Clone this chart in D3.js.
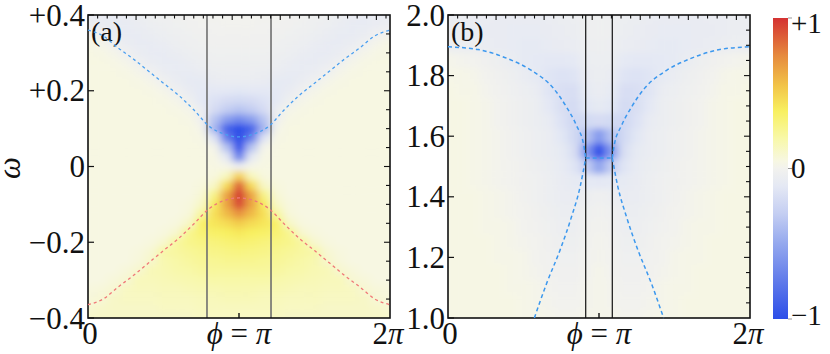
<!DOCTYPE html>
<html><head><meta charset="utf-8">
<script src="https://cdn.jsdelivr.net/npm/d3@7"></script>
<style>
body{margin:0;background:#fff}
svg{display:block}
text{font-family:"Liberation Serif","Times New Roman",serif;fill:#111}
</style>
</head><body>
<svg id="chart" width="830" height="354"></svg>
<script>
// ---------------- data ----------------
// heat-map columns: phi / pi
const phiCols = [0,0.083,0.167,0.25,0.333,0.417,0.5,0.583,0.667,0.75,0.833,0.917,1,1.083,1.167,1.25,1.333,1.417,1.5,1.583,1.667,1.75,1.833,1.917,2];
// panel (a) rows: omega
const aOmegaRows = [0.4,0.375,0.35,0.325,0.3,0.275,0.25,0.225,0.2,0.175,0.15,0.125,0.1,0.075,0.05,0.025,0,-0.025,-0.05,-0.075,-0.1,-0.125,-0.15,-0.175,-0.2,-0.225,-0.25,-0.275,-0.3,-0.325,-0.35,-0.375,-0.4];
// panel (a) values (x100), one row per omega
const aHeat = [
[-7,-8,-9,-8,-6,-4,-3,-2,-1,0,0,0,0,0,0,0,-1,-2,-3,-4,-6,-8,-9,-8,-7],
[-5,-7,-9,-9,-7,-5,-4,-3,-2,-1,-1,0,0,0,-1,-1,-2,-3,-4,-5,-7,-9,-9,-7,-5],
[0,-3,-7,-9,-9,-7,-5,-4,-3,-2,-1,-1,-1,-1,-1,-2,-3,-4,-5,-7,-9,-9,-7,-3,0],
[4,2,-3,-7,-9,-9,-7,-5,-4,-3,-2,-2,-2,-2,-2,-3,-4,-5,-7,-9,-9,-7,-3,2,4],
[5,4,2,-3,-7,-9,-9,-7,-5,-4,-3,-3,-3,-3,-3,-4,-5,-7,-9,-9,-7,-3,2,4,5],
[5,5,4,2,-3,-7,-9,-9,-7,-5,-4,-4,-4,-4,-4,-5,-7,-9,-9,-7,-3,2,4,5,5],
[5,5,5,4,2,-3,-7,-9,-9,-7,-6,-5,-5,-5,-6,-7,-9,-9,-7,-3,2,4,5,5,5],
[5,5,5,5,4,2,-3,-7,-10,-10,-8,-7,-7,-7,-8,-10,-10,-7,-3,2,4,5,5,5,5],
[5,5,5,5,5,4,2,-3,-8,-11,-12,-12,-13,-12,-12,-11,-8,-3,2,4,5,5,5,5,5],
[5,5,5,5,5,5,4,2,-4,-11,-16,-20,-22,-20,-16,-11,-4,2,4,5,5,5,5,5,5],
[5,5,5,5,5,5,5,4,2,-6,-20,-30,-35,-30,-20,-6,2,4,5,5,5,5,5,5,5],
[5,5,5,5,5,5,5,5,4,-2,-35,-55,-65,-55,-35,-2,4,5,5,5,5,5,5,5,5],
[5,5,5,5,5,5,5,5,5,2,-42,-88,-100,-88,-42,2,5,5,5,5,5,5,5,5,5],
[5,5,5,5,5,5,5,5,5,4,-15,-72,-100,-72,-15,4,5,5,5,5,5,5,5,5,5],
[5,5,5,5,5,5,5,5,5,5,2,-35,-100,-35,2,5,5,5,5,5,5,5,5,5,5],
[5,5,5,5,5,5,5,5,5,5,4,-10,-72,-10,4,5,5,5,5,5,5,5,5,5,5],
[5,5,5,5,5,5,5,5,5,5,5,3,-5,3,5,5,5,5,5,5,5,5,5,5,5],
[5,5,5,5,5,5,5,5,5,5,6,14,50,14,6,5,5,5,5,5,5,5,5,5,5],
[5,5,5,5,5,5,5,5,5,6,12,45,88,45,12,6,5,5,5,5,5,5,5,5,5],
[5,5,5,5,5,5,5,5,5,8,28,66,100,66,28,8,5,5,5,5,5,5,5,5,5],
[5,5,5,5,5,5,5,5,6,12,40,66,95,66,40,12,6,5,5,5,5,5,5,5,5],
[5,5,5,5,5,5,5,5,7,22,44,58,72,58,44,22,7,5,5,5,5,5,5,5,5],
[5,5,5,5,5,5,5,6,12,36,42,46,52,46,42,36,12,6,5,5,5,5,5,5,5],
[5,5,5,5,5,5,6,10,26,33,36,38,41,38,36,33,26,10,6,5,5,5,5,5,5],
[5,5,5,5,5,6,10,22,27,29,31,33,34,33,31,29,27,22,10,6,5,5,5,5,5],
[5,5,5,5,6,9,20,22,24,26,28,29,30,29,28,26,24,22,20,9,6,5,5,5,5],
[5,5,5,5,7,11,18,20,22,24,25,26,26,26,25,24,22,20,18,11,7,5,5,5,5],
[5,5,5,7,10,16,17,19,20,22,23,23,23,23,23,22,20,19,17,16,10,7,5,5,5],
[5,5,7,9,15,15,16,17,18,19,20,20,20,20,20,19,18,17,16,15,15,9,7,5,5],
[6,7,9,13,14,14,15,15,16,17,17,18,18,18,17,17,16,15,15,14,14,13,9,7,6],
[7,8,12,13,13,13,14,14,14,15,15,16,16,16,15,15,14,14,14,13,13,13,12,8,7],
[9,11,12,12,12,12,13,13,13,14,14,14,14,14,14,14,13,13,13,12,12,12,12,11,9],
[11,12,12,12,12,12,12,12,12,13,13,13,13,13,13,13,12,12,12,12,12,12,12,12,11]
];
// panel (b) rows: omega
const bOmegaRows = [2.0,1.95,1.9,1.85,1.8,1.75,1.7,1.65,1.6,1.55,1.5,1.45,1.4,1.35,1.3,1.25,1.2,1.15,1.1,1.05,1.0];
const bHeat = [
[-6,-6,-7,-7,-8,-8,-8,-8,-7,-6,-5,-4,-3,-4,-5,-6,-7,-8,-8,-8,-8,-7,-7,-6,-6],
[-6,-6,-7,-8,-8,-9,-9,-9,-8,-7,-6,-4,-3,-4,-6,-7,-8,-9,-9,-9,-8,-8,-7,-6,-6],
[-5,-5,-6,-7,-8,-9,-10,-10,-9,-8,-7,-5,-4,-5,-7,-8,-9,-10,-10,-9,-8,-7,-6,-5,-5],
[2,1,0,-2,-4,-7,-10,-11,-12,-12,-11,-6,-5,-6,-11,-12,-12,-11,-10,-7,-4,-2,0,1,2],
[3,3,2,0,-2,-4,-7,-10,-14,-16,-15,-8,-6,-8,-15,-16,-14,-10,-7,-4,-2,0,2,3,3],
[4,3,3,1,-1,-3,-5,-7,-14,-18,-19,-10,-7,-10,-19,-18,-14,-7,-5,-3,-1,1,3,3,4],
[4,4,3,2,0,-2,-4,-6,-12,-18,-21,-13,-10,-13,-21,-18,-12,-6,-4,-2,0,2,3,4,4],
[4,4,3,2,0,-2,-4,-6,-9,-16,-23,-22,-20,-22,-23,-16,-9,-6,-4,-2,0,2,3,4,4],
[4,4,3,2,1,-1,-3,-5,-7,-13,-22,-36,-58,-36,-22,-13,-7,-5,-3,-1,1,2,3,4,4],
[4,4,3,2,1,-1,-3,-5,-7,-10,-18,-58,-100,-58,-18,-10,-7,-5,-3,-1,1,2,3,4,4],
[4,4,3,2,1,0,-2,-4,-6,-9,-14,-30,-52,-30,-14,-9,-6,-4,-2,0,1,2,3,4,4],
[4,4,3,2,1,0,-2,-3,-5,-8,-10,-11,-12,-11,-10,-8,-5,-3,-2,0,1,2,3,4,4],
[4,4,4,3,2,1,-1,-3,-5,-7,-8,-5,-3,-5,-8,-7,-5,-3,-1,1,2,3,4,4,4],
[4,4,4,3,2,1,0,-2,-4,-6,-6,-3,-1,-3,-6,-6,-4,-2,0,1,2,3,4,4,4],
[4,4,4,3,3,2,0,-1,-3,-5,-5,-2,0,-2,-5,-5,-3,-1,0,2,3,3,4,4,4],
[4,4,4,4,3,2,1,0,-2,-4,-4,-1,1,-1,-4,-4,-2,0,1,2,3,4,4,4,4],
[4,4,4,4,3,3,2,0,-1,-3,-3,0,1,0,-3,-3,-1,0,2,3,3,4,4,4,4],
[4,4,4,4,4,3,2,1,-1,-2,-2,0,2,0,-2,-2,-1,1,2,3,4,4,4,4,4],
[4,4,4,4,4,3,3,2,0,-1,-1,1,2,1,-1,-1,0,2,3,3,4,4,4,4,4],
[4,4,4,4,4,4,3,2,1,0,0,1,2,1,0,0,1,2,3,4,4,4,4,4,4],
[4,4,4,4,4,4,3,3,2,1,1,2,2,2,1,1,2,3,3,4,4,4,4,4,4]
];
// dashed dispersion curves (phi / pi, omega)
const aCurvePhi = [0,0.1,0.2,0.3,0.4,0.5,0.6,0.7,0.8,0.9,1,1.1,1.2,1.3,1.4,1.5,1.6,1.7,1.8,1.9,2];
const aBlueOmega = [0.360,0.345,0.313,0.284,0.252,0.220,0.188,0.150,0.107,0.086,0.078,0.086,0.107,0.150,0.188,0.220,0.252,0.284,0.313,0.345,0.360];
const aRedOmega = [-0.365,-0.350,-0.318,-0.288,-0.255,-0.222,-0.190,-0.152,-0.112,-0.090,-0.083,-0.090,-0.112,-0.152,-0.190,-0.222,-0.255,-0.288,-0.318,-0.350,-0.365];
const bUpperLeftPhi = [0,0.2,0.4,0.55,0.7,0.78,0.85,0.9,0.912];
const bUpperLeftOmega = [1.895,1.886,1.855,1.818,1.757,1.700,1.636,1.568,1.528];
const bUpperRightPhi = [1.088,1.1,1.15,1.22,1.3,1.45,1.6,1.8,2];
const bUpperRightOmega = [1.528,1.568,1.636,1.700,1.757,1.818,1.855,1.886,1.895];
const bLowerLeftPhi = [0.572,0.653,0.742,0.818,0.875,0.912];
const bLowerLeftOmega = [1.0,1.114,1.224,1.334,1.433,1.528];
const bLowerRightPhi = [1.088,1.125,1.182,1.258,1.347,1.428];
const bLowerRightOmega = [1.528,1.433,1.334,1.224,1.114,1.0];
const bFlatPhi = [0.912,1.088];
const bFlatOmega = [1.528,1.528];
// vertical reference lines (phi / pi)
const aCutLines = [0.788,1.212];
const bCutLines = [0.912,1.088];
// ticks & labels
const aYTicks = [0.4,0.2,0,-0.2,-0.4];
const aYLabels = ["+0.4","+0.2","0","\u22120.2","\u22120.4"];
const bYTicks = [2.0,1.8,1.6,1.4,1.2,1.0];
const bYLabels = ["2.0","1.8","1.6","1.4","1.2","1.0"];
const xTickVals = [0,1,2];
const cbTicks = [1,0,-1];
const cbLabels = ["+1","0","\u22121"];
// colour map
const cDomain = [-1,-0.75,-0.5,-0.3,-0.12,0,0.05,0.2,0.38,0.55,0.75,1];
const cRange = ['#2c4ee8','#607aea','#94a8ee','#c4cef2','#e4e8f4','#f2f2ee','#f7f7e2','#f8f8a8','#f8f060','#f2c448','#e68a3e','#d43232'];

// ---------------- drawing ----------------
const svg = d3.select('#chart');
const defs = svg.append('defs');
const color = d3.scaleLinear().domain(cDomain).range(cRange).clamp(true);

defs.append('filter').attr('id','soft').attr('x','-5%').attr('y','-5%').attr('width','110%').attr('height','110%')
  .append('feGaussianBlur').attr('stdDeviation','4.2 3.4');

const pTop = 15, pBottom = 318;
function panel(id, x0, x1, yDomain, omegas, heat, yTicks, yLabels, rightStep, cuts, cutColor, cutWidth, tag) {
  const xs = d3.scaleLinear().domain([0,2]).range([x0,x1]);
  const ys = d3.scaleLinear().domain(yDomain).range([pBottom, pTop]);
  const g = svg.append('g');
  defs.append('clipPath').attr('id','clip'+id).append('rect')
    .attr('x',x0).attr('y',pTop).attr('width',x1-x0).attr('height',pBottom-pTop);
  const clipG = g.append('g').attr('clip-path',`url(#clip${id})`);
  const cells = clipG.append('g').attr('filter','url(#soft)');
  const pad = 20;
  omegas.forEach((w,i) => {
    const yT = i===0 ? ys(w)-pad : (ys(omegas[i-1])+ys(w))/2;
    const yB = i===omegas.length-1 ? ys(w)+pad : (ys(w)+ys(omegas[i+1]))/2;
    phiCols.forEach((p,j) => {
      const xL = j===0 ? xs(p)-pad : (xs(phiCols[j-1])+xs(p))/2;
      const xR = j===phiCols.length-1 ? xs(p)+pad : (xs(p)+xs(phiCols[j+1]))/2;
      cells.append('rect').attr('x',xL).attr('y',yT)
        .attr('width',xR-xL+0.6).attr('height',yB-yT+0.6)
        .attr('fill',color(heat[i][j]/100));
    });
  });
  cuts.forEach(c => {
    g.append('line').attr('x1',xs(c)).attr('x2',xs(c)).attr('y1',pTop).attr('y2',pBottom)
      .attr('stroke',cutColor).attr('stroke-width',cutWidth);
  });
  g.append('rect').attr('x',x0).attr('y',pTop).attr('width',x1-x0).attr('height',pBottom-pTop)
    .attr('fill','none').attr('stroke','#111').attr('stroke-width',1.6);
  yTicks.forEach((t,i) => {
    g.append('line').attr('x1',x0).attr('x2',x0+6).attr('y1',ys(t)).attr('y2',ys(t)).attr('stroke','#111').attr('stroke-width',1.2);
    g.append('text').attr('x',x0-3).attr('y',ys(t)).attr('dy','0.34em').attr('text-anchor','end')
      .style('font-size','31px').text(yLabels[i]);
  });
  const rt = d3.range(Math.round(yDomain[0]/rightStep)+1, Math.round(yDomain[1]/rightStep)).map(k => k*rightStep);
  rt.forEach(t => {
    const major = Math.abs(Math.round(t*5) - t*5) < 1e-6;
    g.append('line').attr('x1',x1).attr('x2',x1-(major?6:4)).attr('y1',ys(t)).attr('y2',ys(t)).attr('stroke','#111').attr('stroke-width',1.1);
  });
  d3.range(1,32).forEach(k => {
    const v = k*0.2/Math.PI;
    if (v >= 2) return;
    const major = k % 5 === 0;
    g.append('line').attr('x1',xs(v)).attr('x2',xs(v)).attr('y1',pTop).attr('y2',pTop+(major?5:3.5)).attr('stroke','#111').attr('stroke-width',1.1);
  });
  g.append('line').attr('x1',xs(1)).attr('x2',xs(1)).attr('y1',pBottom).attr('y2',pBottom-5).attr('stroke','#111').attr('stroke-width',1.4);
  const xl = g.append('g').style('font-size','31px');
  xl.append('text').attr('x',xs(xTickVals[0])+2).attr('y',344).attr('text-anchor','middle').text('0');
  const mid = xl.append('text').attr('x',xs(xTickVals[1])).attr('y',344).attr('text-anchor','middle');
  mid.append('tspan').style('font-style','italic').text('\u03d5');
  mid.append('tspan').text(' = ');
  mid.append('tspan').style('font-style','italic').text('\u03c0');
  const two = xl.append('text').attr('x',xs(xTickVals[2])-2).attr('y',344).attr('text-anchor','middle');
  two.append('tspan').text('2');
  two.append('tspan').style('font-style','italic').text('\u03c0');
  g.append('text').attr('x',x0+3).attr('y',41).style('font-size','28px').text(tag);
  return {xs, ys, g};
}

const A = panel('A', 88, 390, [-0.4,0.4], aOmegaRows, aHeat, aYTicks, aYLabels, 0.05, aCutLines, '#6f6f6f', 1.6, '(a)');
const B = panel('B', 448, 750, [1.0,2.0], bOmegaRows, bHeat, bYTicks, bYLabels, 0.05, bCutLines, '#111', 1.2, '(b)');

function dashed(P, phis, oms, col, w, dash, curve) {
  const line = d3.line().x((d,i)=>P.xs(phis[i])).y((d,i)=>P.ys(oms[i])).curve(curve);
  P.g.append('path').attr('d', line(phis)).attr('fill','none').attr('stroke',col)
    .attr('stroke-width',w).attr('stroke-dasharray',dash);
}
dashed(A, aCurvePhi, aBlueOmega, '#4a9ff0', 1.3, '3,3', d3.curveMonotoneX);
dashed(A, aCurvePhi, aRedOmega, '#f07878', 1.3, '3,3', d3.curveMonotoneX);
dashed(B, bUpperLeftPhi, bUpperLeftOmega, '#3c98ee', 1.5, '4,3', d3.curveMonotoneX);
dashed(B, bUpperRightPhi, bUpperRightOmega, '#3c98ee', 1.5, '4,3', d3.curveMonotoneX);
dashed(B, bLowerLeftPhi, bLowerLeftOmega, '#3c98ee', 1.5, '4,3', d3.curveMonotoneX);
dashed(B, bLowerRightPhi, bLowerRightOmega, '#3c98ee', 1.5, '4,3', d3.curveMonotoneX);
dashed(B, bFlatPhi, bFlatOmega, '#3c98ee', 1.5, '4,3', d3.curveLinear);

svg.append('text').attr('transform','translate(20,168) rotate(-90)').attr('text-anchor','middle')
  .style('font-size','31px').style('font-style','italic').text('\u03c9');

const cbX = 773, cbW = 15;
const cbScale = d3.scaleLinear().domain([-1,1]).range([319,18]);
const grad = defs.append('linearGradient').attr('id','cbg').attr('x1',0).attr('x2',0).attr('y1',0).attr('y2',1);
cDomain.slice().reverse().forEach(v => {
  grad.append('stop').attr('offset',(1-v)/2).attr('stop-color',color(v));
});
svg.append('rect').attr('x',cbX).attr('y',cbScale(1)).attr('width',cbW).attr('height',cbScale(-1)-cbScale(1)).attr('fill','url(#cbg)');
cbTicks.forEach((t,i) => {
  svg.append('line').attr('x1',cbX+cbW).attr('x2',cbX+cbW+4).attr('y1',cbScale(t)).attr('y2',cbScale(t)).attr('stroke','#999').attr('stroke-width',1);
  const yy = cbScale(t) + (t===1 ? 5 : t===-1 ? -4 : 0);
  svg.append('text').attr('x',cbX+cbW+3).attr('y',yy).attr('dy','0.34em').style('font-size','29px').text(cbLabels[i]);
});
</script>
</body></html>
